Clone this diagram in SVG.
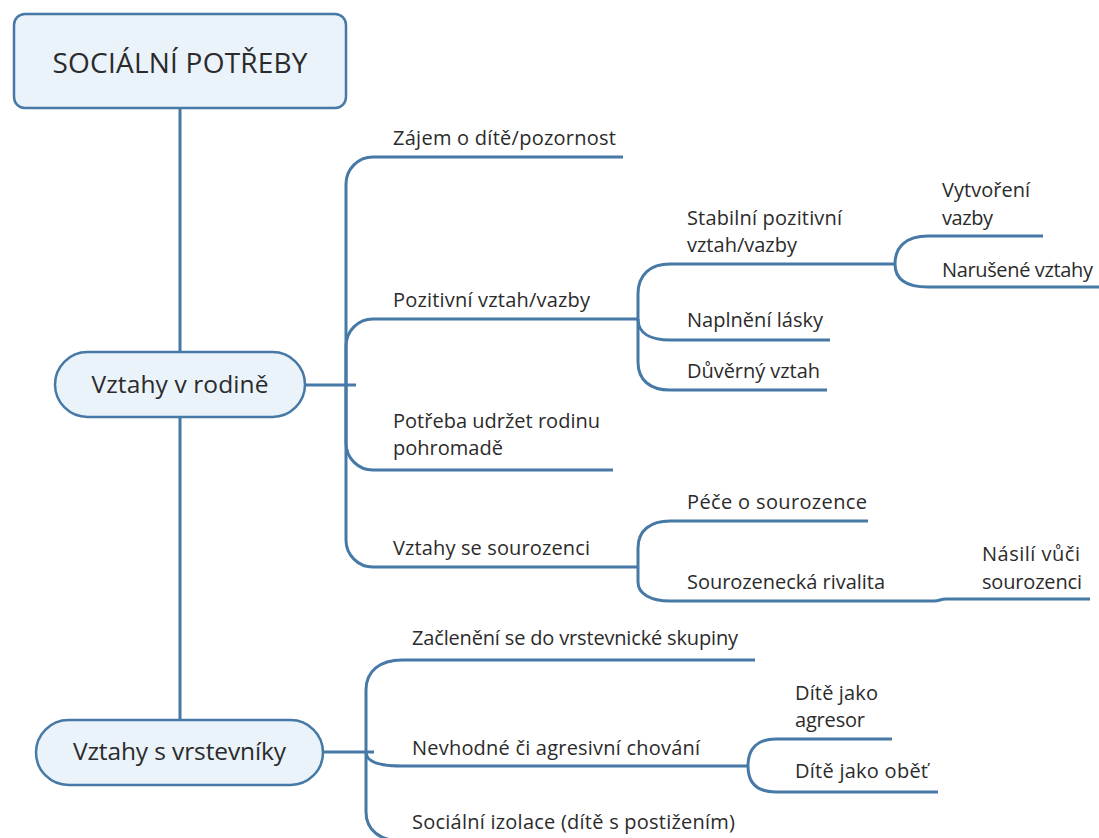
<svg xmlns="http://www.w3.org/2000/svg" width="1099" height="838" viewBox="0 0 1099 838">
  <style>
    .bg { fill: #ffffff; }
    .box { fill: #eaf2fa; stroke: #4679a6; stroke-width: 2.5; }
    .link { fill: none; stroke: #4679a6; stroke-width: 3; stroke-linecap: butt; }
    text { font-family: "Open Sans", "Noto Sans", "Liberation Sans", sans-serif; fill: #2b2b2b; }
    .root { font-size: 28px; text-anchor: middle; }
    .main { font-size: 24.5px; text-anchor: middle; }
    .leaf { font-size: 20px; }
  </style>
  <rect class="bg" x="0" y="0" width="1099" height="838"/>

  <!-- connectors -->
  <g id="connectors">
    <!-- central spine -->
    <path class="link" d="M180 108 V352 M180 417 V720"/>
    <!-- Vztahy v rodině branches -->
    <path class="link" d="M305 385 H356"/>
    <path class="link" d="M346 385 V184 A27 27 0 0 1 373 157 H623"/>
    <path class="link" d="M346 385 V346 A27 27 0 0 1 373 319 H638"/>
    <path class="link" d="M346 385 V443 A27 27 0 0 0 373 470 H613"/>
    <path class="link" d="M346 385 V540 A27 27 0 0 0 373 567 H638"/>
    <!-- Pozitivní vztah/vazby children -->
    <path class="link" d="M638 319 V294 C638 275 650 264 670 264 H895"/>
    <path class="link" d="M638 319 C638 333 650 340 670 340 H830"/>
    <path class="link" d="M638 319 V362 C638 380 650 390 670 390 H827"/>
    <!-- Stabilní pozitivní vztah/vazby children -->
    <path class="link" d="M895 264 C895 247 906 236 928 236 H1043"/>
    <path class="link" d="M895 264 C895 279 906 287 928 287 H1099"/>
    <!-- Vztahy se sourozenci children -->
    <path class="link" d="M638 567 V548 C638 530 651 521 670 521 H868"/>
    <path class="link" d="M638 567 V582 C638 594 651 601 670 601 H934"/>
    <path class="link" d="M934 601 C940 601 940 599 946 599 H1090"/>
    <!-- Vztahy s vrstevníky branches -->
    <path class="link" d="M323 752 H374"/>
    <path class="link" d="M366 752 V690 C366 671 380 660 402 660 H755"/>
    <path class="link" d="M366 752 C366 761 378 766 402 766 H748"/>
    <path class="link" d="M366 752 V812 C366 830 380 841 402 841 H740"/>
    <!-- Nevhodné či agresivní chování children -->
    <path class="link" d="M748 766 C748 749 757 739 776 739 H892"/>
    <path class="link" d="M748 766 C748 783 757 792 776 792 H938"/>
  </g>

  <!-- nodes -->
  <g id="node-root">
    <rect class="box" x="14" y="14" width="332" height="94" rx="11"/>
    <text class="root" x="180" y="73" textLength="255">SOCIÁLNÍ POTŘEBY</text>
  </g>

  <g id="node-rodina">
    <rect class="box" x="55" y="352" width="250" height="65" rx="32.5"/>
    <text class="main" x="180" y="393" textLength="177">Vztahy v rodině</text>
  </g>

  <g id="node-vrstevnici">
    <rect class="box" x="36" y="720" width="287" height="65" rx="32.5"/>
    <text class="main" x="179.5" y="760" textLength="213">Vztahy s vrstevníky</text>
  </g>

  <g id="node-zajem">
    <text class="leaf" x="393" y="145" textLength="223">Zájem o dítě/pozornost</text>
  </g>
  <g id="node-pozitivni">
    <text class="leaf" x="393" y="307" textLength="197">Pozitivní vztah/vazby</text>
  </g>
  <g id="node-pohromade">
    <text class="leaf" x="393" y="428" textLength="207">Potřeba udržet rodinu</text>
    <text class="leaf" x="393" y="455" textLength="110">pohromadě</text>
  </g>
  <g id="node-sourozenci">
    <text class="leaf" x="393" y="555" textLength="197">Vztahy se sourozenci</text>
  </g>

  <g id="node-stabilni">
    <text class="leaf" x="687" y="225" textLength="155">Stabilní pozitivní</text>
    <text class="leaf" x="687" y="252" textLength="110">vztah/vazby</text>
  </g>
  <g id="node-laska">
    <text class="leaf" x="687" y="327" textLength="136">Naplnění lásky</text>
  </g>
  <g id="node-duverny">
    <text class="leaf" x="687" y="378" textLength="133">Důvěrný vztah</text>
  </g>

  <g id="node-vytvoreni">
    <text class="leaf" x="942" y="197" textLength="88">Vytvoření</text>
    <text class="leaf" x="942" y="225" textLength="51">vazby</text>
  </g>
  <g id="node-narusene">
    <text class="leaf" x="942" y="277" textLength="151">Narušené vztahy</text>
  </g>

  <g id="node-pece">
    <text class="leaf" x="687" y="509" textLength="180">Péče o sourozence</text>
  </g>
  <g id="node-rivalita">
    <text class="leaf" x="687" y="589" textLength="198">Sourozenecká rivalita</text>
  </g>
  <g id="node-nasili">
    <text class="leaf" x="982" y="561" textLength="98">Násilí vůči</text>
    <text class="leaf" x="982" y="589" textLength="100">sourozenci</text>
  </g>

  <g id="node-zacleneni">
    <text class="leaf" x="412" y="645" textLength="326">Začlenění se do vrstevnické skupiny</text>
  </g>
  <g id="node-nevhodne">
    <text class="leaf" x="412" y="755" textLength="288">Nevhodné či agresivní chování</text>
  </g>
  <g id="node-izolace">
    <text class="leaf" x="412" y="829" textLength="323">Sociální izolace (dítě s postižením)</text>
  </g>

  <g id="node-agresor">
    <text class="leaf" x="795" y="700" textLength="83">Dítě jako</text>
    <text class="leaf" x="795" y="727" textLength="70">agresor</text>
  </g>
  <g id="node-obet">
    <text class="leaf" x="795" y="778" textLength="133">Dítě jako oběť</text>
  </g>
</svg>
